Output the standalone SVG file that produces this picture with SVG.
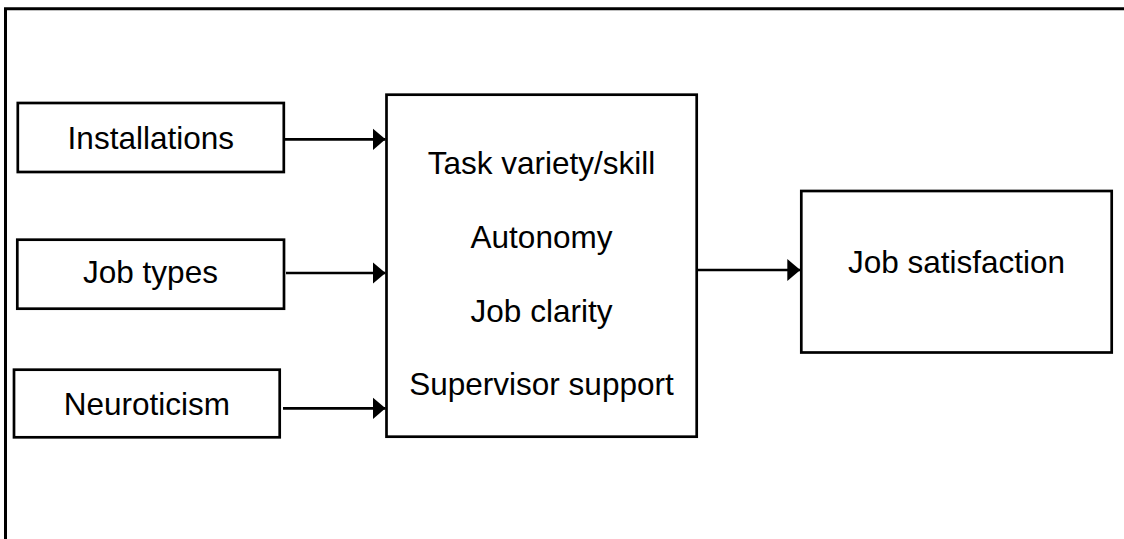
<svg xmlns="http://www.w3.org/2000/svg" width="1124" height="539" viewBox="0 0 1124 539">
<style>
.box{fill:#fff;stroke:#000;stroke-width:2.7}
.lbl{font-family:"Liberation Sans",Arial,sans-serif;font-size:31.5px;fill:#000;text-anchor:middle}
.conn{stroke:#000;stroke-width:2.7;fill:none}
</style>
<defs>
<marker id="arr" markerUnits="userSpaceOnUse" markerWidth="14" markerHeight="24" refX="13" refY="11" orient="auto">
<path d="M0,0 L13,11 L0,22 Z" fill="#000"/>
</marker>
</defs>
<rect width="1124" height="539" fill="#fff"/>
<g id="frame">
<path d="M5.5,539 V8.8 H1124" fill="none" stroke="#000" stroke-width="3"/>
</g>
<g id="installations">
<rect class="box" x="17.8" y="103" width="266" height="69"/>
<text class="lbl" x="150.8" y="149.3">Installations</text>
</g>
<g id="job-types">
<rect class="box" x="17.3" y="239.7" width="266.7" height="69"/>
<text class="lbl" x="150.5" y="283.3">Job types</text>
</g>
<g id="neuroticism">
<rect class="box" x="14" y="369.7" width="265.7" height="67.6"/>
<text class="lbl" x="146.8" y="415">Neuroticism</text>
</g>
<g id="mediators">
<rect class="box" x="386.5" y="94.7" width="310.2" height="342"/>
<text class="lbl" x="541.5" y="174">Task variety/skill</text>
<text class="lbl" x="541.5" y="248">Autonomy</text>
<text class="lbl" x="541.5" y="321.5">Job clarity</text>
<text class="lbl" x="541.5" y="395">Supervisor support</text>
</g>
<g id="job-satisfaction">
<rect class="box" x="801.3" y="191" width="310.4" height="161.5"/>
<text class="lbl" x="956.5" y="273.3">Job satisfaction</text>
</g>
<g id="connectors">
<line class="conn" x1="284" y1="139.3" x2="385.5" y2="139.3" marker-end="url(#arr)"/>
<line class="conn" x1="286" y1="273" x2="385.5" y2="273" marker-end="url(#arr)"/>
<line class="conn" x1="283" y1="408.3" x2="385.5" y2="408.3" marker-end="url(#arr)"/>
<line class="conn" x1="696.7" y1="270" x2="800.3" y2="270" marker-end="url(#arr)"/>
</g>
</svg>
